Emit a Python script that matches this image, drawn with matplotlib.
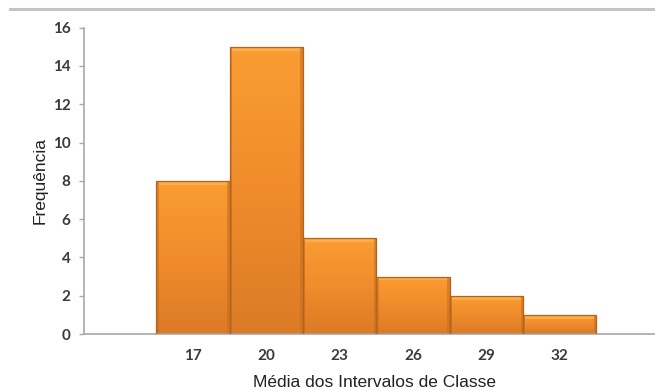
import matplotlib
matplotlib.use("Agg")
import matplotlib.pyplot as plt
import numpy as np
from matplotlib.colors import LinearSegmentedColormap
from matplotlib.lines import Line2D

# frequências por ponto médio de classe
medias = [17, 20, 23, 26, 29, 32]
frequencias = [8, 15, 5, 3, 2, 1]
largura = 3
yticks = [0, 2, 4, 6, 8, 10, 12, 14, 16]

fig = plt.figure(figsize=(6.55, 3.9), dpi=100)
fig.patch.set_facecolor("white")
ax = fig.add_axes([84 / 655, 1 - 334 / 390, 1 - 84 / 655, (334 - 27.7) / 390])

# linha cinza no topo da área do gráfico
fig.add_artist(Line2D([10 / 655, 1.0], [1 - 9 / 390, 1 - 9 / 390],
                      color="#c4c4c4", lw=2.2, transform=fig.transFigure))

laranja = LinearSegmentedColormap.from_list("laranja", ["#dc7b26", "#f08c2b", "#fa9d33"])
grad = np.linspace(0, 1, 256).reshape(-1, 1)

barras = ax.bar(medias, frequencias, width=largura, color="none",
                edgecolor="#b5631c", linewidth=0.9, zorder=3)
for b in barras:
    x0, y0 = b.get_x(), b.get_y()
    w, h = b.get_width(), b.get_height()
    im = ax.imshow(grad, cmap=laranja, origin="lower", aspect="auto",
                   extent=[x0, x0 + w, y0, y0 + h], zorder=2)
    im.set_clip_path(b)
    # realce chanfrado no topo
    ax.fill_between([x0 + 0.08, x0 + w - 0.08], y0 + h - 0.2, y0 + h - 0.02,
                    color="#fbb14d", alpha=0.85, lw=0, zorder=2.5)
    # bordas laterais sombreadas
    ax.fill_between([x0, x0 + 0.1], y0, y0 + h, color="#c46d20", alpha=0.55, lw=0, zorder=2.5)
    ax.fill_between([x0 + w - 0.1, x0 + w], y0, y0 + h, color="#c46d20", alpha=0.55, lw=0, zorder=2.5)

ax.set_xlim(12.55, 35.9)
ax.set_ylim(0, 16)
ax.set_yticks(yticks)
ax.set_xticks(medias)

fonte_ticks = dict(family="Lato", weight="bold", size=11, color="#3a3a3a")
ax.set_yticklabels([str(v) for v in yticks], fontdict=fonte_ticks)
ax.set_xticklabels([str(v) for v in medias], fontdict=fonte_ticks)
ax.tick_params(axis="y", length=3.6, width=1, color="#a8a8a8", pad=6)
ax.tick_params(axis="x", length=0, pad=11)

for lado in ["top", "right"]:
    ax.spines[lado].set_visible(False)
ax.spines["left"].set_color("#a8a8a8")
ax.spines["bottom"].set_color("#a8a8a8")
ax.spines["left"].set_linewidth(1.2)
ax.spines["bottom"].set_linewidth(1.2)

ax.set_xlabel("Média dos Intervalos de Classe", family="Liberation Sans",
              size=12.5, color="#222222")
ax.xaxis.set_label_coords(0.508, -0.135)
ax.set_ylabel("Frequência", family="Liberation Sans", size=12.5,
              color="#222222", labelpad=4)

fig.savefig("out.png", dpi=100, facecolor="white")
plt.close(fig)
